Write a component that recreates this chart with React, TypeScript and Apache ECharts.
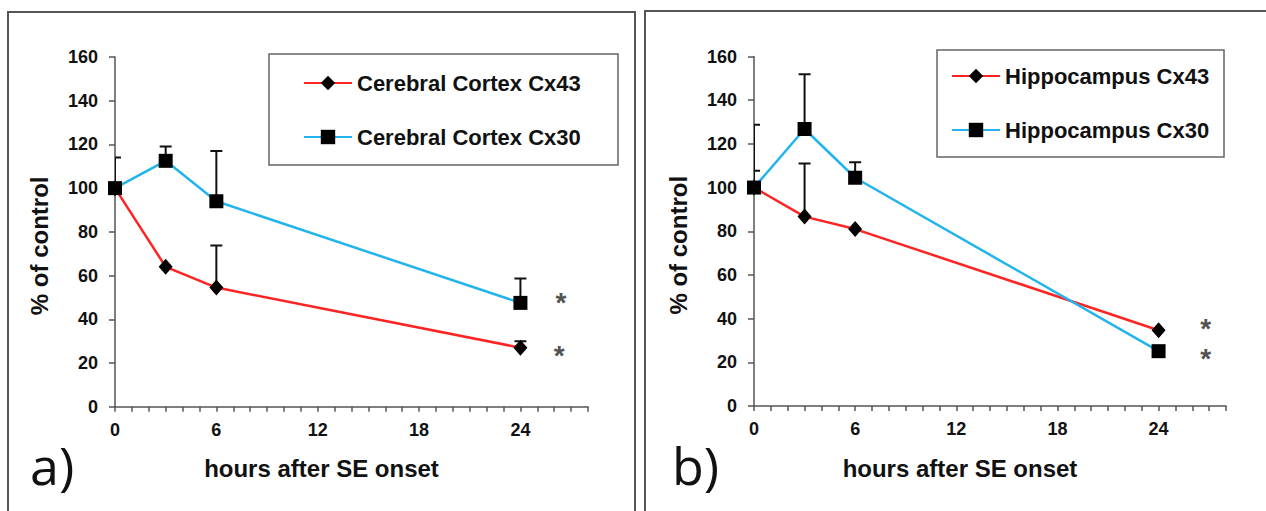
import React, { useEffect, useRef } from "react";
import * as echarts from "echarts";

// ---- data ----
const hours = [0, 3, 6, 24];

const ctxCx43 = [100, 64, 54.5, 27];
const ctxCx43Upper: (number | null)[] = [null, null, 73.7, 30];
const ctxCx30 = [100, 112.5, 94, 47.5];
const ctxCx30Upper: (number | null)[] = [114, 119, 117, 58.7];

const hipCx43 = [100, 86.7, 81, 34.7];
const hipCx43Upper: (number | null)[] = [107.7, 111, null, null];
const hipCx30 = [100, 126.8, 104.5, 25.1];
const hipCx30Upper: (number | null)[] = [128.7, 151.9, 111.6, null];

// significance asterisks: [hour, value]
const ctxStars = [[26.4, 47.6], [26.3, 23.4]];
const hipStars = [[26.8, 35.6], [26.8, 21.6]];

const xTickLabels = [0, 6, 12, 18, 24];

const RED = "#ff2424";
const BLUE = "#22b4ec";
const FONT = "'Liberation Sans', Arial, sans-serif";

const pairs = (ys: number[]) => hours.map((h, i) => [h, ys[i]]);
const errData = (ys: number[], up: (number | null)[]) =>
  hours
    .map((h, i) => (up[i] == null ? null : [h, ys[i], up[i] as number]))
    .filter((d) => d !== null) as number[][];

const renderErr = (params: any, api: any) => {
  const x = api.value(0);
  const y = api.value(1);
  const hi = api.value(2);
  const p0 = api.coord([x, y]);
  const p1 = api.coord([x, hi]);
  const st = { stroke: "#111", lineWidth: 2 };
  return {
    type: "group",
    children: [
      { type: "line", shape: { x1: p0[0], y1: p0[1], x2: p1[0], y2: p1[1] }, style: st },
      { type: "line", shape: { x1: p1[0] - 6, y1: p1[1], x2: p1[0] + 6, y2: p1[1] }, style: st },
    ],
  };
};

const xAxisFor = (gridIndex: number) => ({
  type: "value",
  gridIndex,
  min: 0,
  max: 28,
  interval: 1,
  name: "hours after SE onset",
  nameLocation: "middle",
  nameGap: 50,
  nameTextStyle: {
    fontFamily: FONT,
    fontSize: 24,
    fontWeight: "bold",
    color: "#111",
    padding: [0, 60, 0, 0],
  },
  splitLine: { show: false },
  axisLine: { show: true, onZero: false, lineStyle: { color: "#555", width: 1.5 } },
  axisTick: { show: true, interval: 0, length: 5, lineStyle: { color: "#555", width: 1.5 } },
  axisLabel: {
    fontFamily: FONT,
    fontSize: 18,
    fontWeight: "bold",
    color: "#111",
    margin: 14,
    hideOverlap: false,
    formatter: (v: number) => (xTickLabels.indexOf(v) >= 0 ? String(v) : ""),
  },
});

const yAxisFor = (gridIndex: number) => ({
  type: "value",
  gridIndex,
  min: 0,
  max: 160,
  interval: 20,
  name: "% of control",
  nameLocation: "middle",
  nameGap: 64,
  nameTextStyle: {
    fontFamily: FONT,
    fontSize: 24,
    fontWeight: "bold",
    color: "#111",
    padding: [0, 28, 0, 0],
  },
  splitLine: { show: false },
  axisLine: { show: true, lineStyle: { color: "#555", width: 1.5 } },
  axisTick: { show: true, length: 6, lineStyle: { color: "#555", width: 1.5 } },
  axisLabel: {
    fontFamily: FONT,
    fontSize: 18,
    fontWeight: "bold",
    color: "#111",
    margin: 17,
  },
});

const lineSeries = (
  name: string,
  ys: number[],
  color: string,
  symbol: string,
  size: number | number[],
  idx: number
) => ({
  name,
  type: "line",
  xAxisIndex: idx,
  yAxisIndex: idx,
  data: pairs(ys),
  symbol,
  symbolSize: size,
  z: 3,
  lineStyle: { color, width: 2.5 },
  itemStyle: { color: "#000" },
});

const errSeries = (name: string, ys: number[], up: (number | null)[], idx: number) => ({
  name,
  type: "custom",
  xAxisIndex: idx,
  yAxisIndex: idx,
  clip: true,
  z: 2,
  data: errData(ys, up),
  encode: { x: 0, y: [1, 2] },
  renderItem: renderErr,
});

const starSeries = (name: string, data: number[][], idx: number) => ({
  name,
  type: "scatter",
  xAxisIndex: idx,
  yAxisIndex: idx,
  data,
  symbolSize: 0,
  label: {
    show: true,
    position: "inside",
    formatter: "*",
    fontFamily: FONT,
    fontSize: 28,
    fontWeight: "bold",
    color: "#222",
  },
});

const legendFor = (names: string[], left: number, top: number) => ({
  data: names,
  orient: "vertical",
  left,
  top,
  padding: 0,
  itemWidth: 48,
  itemHeight: 18,
  itemGap: 28,
  selectedMode: false,
  textStyle: {
    fontFamily: FONT,
    fontSize: 22,
    fontWeight: "bold",
    color: "#111",
    lineHeight: 26,
  },
});

export default function App() {
  const ref = useRef<HTMLDivElement>(null);
  useEffect(() => {
    if (!ref.current) return;
    const chart = echarts.init(ref.current, null, { renderer: "svg" });
    const option: any = {
      animation: false,
      backgroundColor: "#fff",
      grid: [
        { left: 115, top: 57, width: 473, height: 349.7 },
        { left: 754, top: 56.5, width: 472, height: 349.5 },
      ],
      xAxis: [xAxisFor(0), xAxisFor(1)],
      yAxis: [yAxisFor(0), yAxisFor(1)],
      legend: [
        legendFor(["Cerebral Cortex Cx43", "Cerebral Cortex Cx30"], 303, 70),
        legendFor(["Hippocampus Cx43", "Hippocampus Cx30"], 951, 63),
      ],
      series: [
        errSeries("ctx43err", ctxCx43, ctxCx43Upper, 0),
        errSeries("ctx30err", ctxCx30, ctxCx30Upper, 0),
        lineSeries("Cerebral Cortex Cx43", ctxCx43, RED, "diamond", [14, 16], 0),
        lineSeries("Cerebral Cortex Cx30", ctxCx30, BLUE, "rect", 14, 0),
        starSeries("ctxStars", ctxStars, 0),
        errSeries("hip43err", hipCx43, hipCx43Upper, 1),
        errSeries("hip30err", hipCx30, hipCx30Upper, 1),
        lineSeries("Hippocampus Cx43", hipCx43, RED, "diamond", [14, 16], 1),
        lineSeries("Hippocampus Cx30", hipCx30, BLUE, "rect", 14, 1),
        starSeries("hipStars", hipStars, 1),
      ],
      graphic: [
        {
          type: "polyline",
          shape: { points: [[8, 520], [8, 12], [635, 12], [635, 520]] },
          style: { stroke: "#555", lineWidth: 2, fill: "none" },
          silent: true,
        },
        {
          type: "polyline",
          shape: { points: [[645, 520], [645, 11], [1270, 11]] },
          style: { stroke: "#555", lineWidth: 2, fill: "none" },
          silent: true,
        },
        {
          type: "rect",
          shape: { x: 269, y: 54, width: 349, height: 111 },
          style: { stroke: "#666", lineWidth: 1.5, fill: "none" },
          silent: true,
        },
        {
          type: "rect",
          shape: { x: 937, y: 50, width: 287, height: 107 },
          style: { stroke: "#666", lineWidth: 1.5, fill: "none" },
          silent: true,
        },
        {
          type: "text",
          x: 30,
          y: 464,
          style: {
            text: "a)",
            font: "52px 'Open Sans', sans-serif",
            fill: "#111",
            verticalAlign: "middle",
            align: "left",
          },
        },
        {
          type: "text",
          x: 672,
          y: 464,
          style: {
            text: "b)",
            font: "52px 'Open Sans', sans-serif",
            fill: "#111",
            verticalAlign: "middle",
            align: "left",
          },
        },
      ],
    };
    chart.setOption(option);
    return () => chart.dispose();
  }, []);
  return (
    <div
      ref={ref}
      style={{ position: "absolute", left: 0, top: 0, width: 1266, height: 511, background: "#fff" }}
    />
  );
}
